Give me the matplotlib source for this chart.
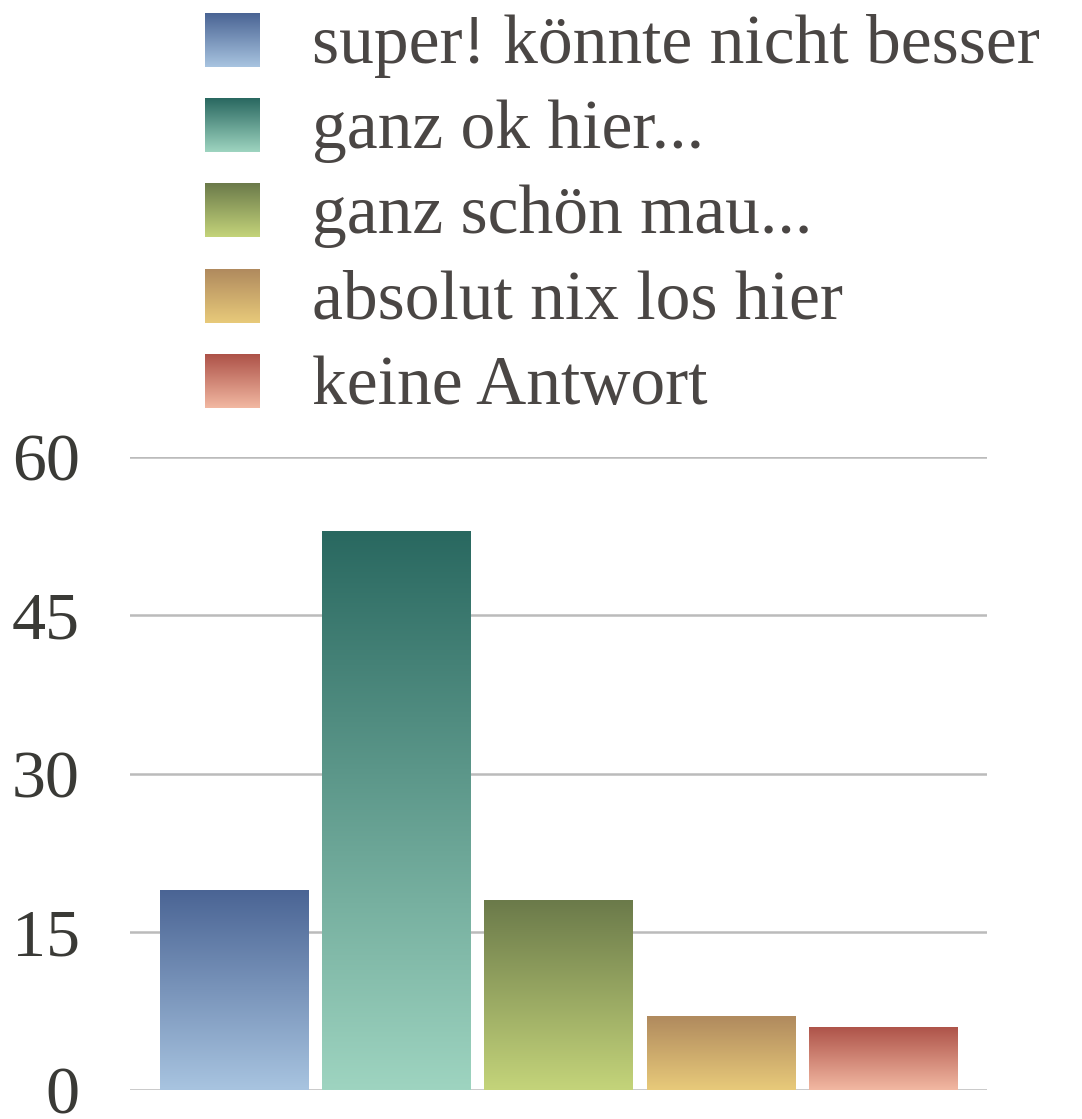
import numpy as np
import matplotlib
matplotlib.use("Agg")
import matplotlib.pyplot as plt
from matplotlib.colors import LinearSegmentedColormap

categories = ["super! könnte nicht besser", "ganz ok hier...", "ganz schön mau...",
              "absolut nix los hier", "keine Antwort"]
values = [19, 53, 18, 7, 6]
yticks = [0, 15, 30, 45, 60]
top_colors = ["#4a6494", "#296860", "#6b7a4a", "#b08a5e", "#ad5248"]
bottom_colors = ["#a8c4e0", "#9ed4c0", "#c4d47a", "#e8ca7a", "#f2b8a2"]

FONT = ["Liberation Serif", "DejaVu Serif"]
plt.rcParams['font.family'] = FONT

W, H = 1082, 1119
fig = plt.figure(figsize=(W / 100, H / 100), dpi=100)
ax = fig.add_axes([130 / W, 1 - 1090 / H, (987 - 130) / W, (1090 - 457) / H])

x = np.arange(len(values))
bars = ax.bar(x, values, width=0.914, facecolor="none", edgecolor="none", zorder=3)
grad = np.linspace(0, 1, 256).reshape(-1, 1)
for b, c1, c2 in zip(bars, top_colors, bottom_colors):
    cmap = LinearSegmentedColormap.from_list("g", [c2, c1])
    x0, w, h = b.get_x(), b.get_width(), b.get_height()
    im = ax.imshow(grad, cmap=cmap, origin="lower", aspect="auto",
                   extent=(x0, x0 + w, 0, h), zorder=3, interpolation="bilinear")
    im.set_clip_path(b)

ax.set_xlim(-0.642, 4.642)
ax.set_ylim(0, 60)
ax.set_yticks(yticks)
ax.set_xticks([])
ax.yaxis.grid(True, color="#bbbbbb", linewidth=1.8)
ax.set_axisbelow(True)
for s in ax.spines.values():
    s.set_visible(False)
ax.tick_params(axis="y", length=0, pad=36, labelsize=49, labelcolor="#3a3a36")

# legend
row_centers = [40, 125, 210, 296, 381]
for cat, c1, c2, yc in zip(categories, top_colors, bottom_colors, row_centers):
    cmap = LinearSegmentedColormap.from_list("g", [c2, c1])
    lax = fig.add_axes([205 / W, 1 - (yc + 27) / H, 55 / W, 54 / H])
    lax.imshow(grad, cmap=cmap, origin="lower", aspect="auto", interpolation="bilinear")
    lax.axis("off")
    fig.text(312 / W, 1 - (yc + 6) / H, cat, fontsize=50, color="#4a4644",
             va="center", ha="left")

fig.savefig("out.png", dpi=100)
